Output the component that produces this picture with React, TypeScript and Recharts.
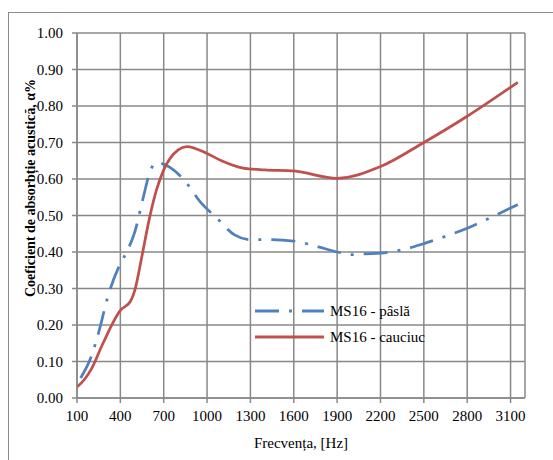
import { LineChart, Line, XAxis, YAxis, CartesianGrid, Legend } from "recharts";

// MS16 - pâslă (felt)
const frecventaPasla = [125, 200, 250, 315, 400, 440, 500, 560, 605, 650, 730, 850, 950, 1070, 1190, 1300, 1430, 1600, 1770, 1900, 2000, 2100, 2200, 2350, 2500, 2650, 2800, 2970, 3150];
const valoriPasla = [0.055, 0.115, 0.18, 0.28, 0.368, 0.397, 0.455, 0.552, 0.62, 0.645, 0.635, 0.593, 0.539, 0.492, 0.447, 0.434, 0.434, 0.43, 0.414, 0.4, 0.393, 0.395, 0.397, 0.406, 0.423, 0.443, 0.465, 0.496, 0.53];

// MS16 - cauciuc (rubber)
const frecventaCauciuc = [100, 150, 200, 280, 400, 470, 500, 550, 600, 650, 700, 800, 860, 1000, 1100, 1250, 1400, 1600, 1900, 2200, 2500, 2800, 3150];
const valoriCauciuc = [0.03, 0.05, 0.08, 0.15, 0.24, 0.265, 0.295, 0.39, 0.49, 0.57, 0.625, 0.68, 0.689, 0.67, 0.65, 0.63, 0.625, 0.622, 0.602, 0.634, 0.7, 0.772, 0.865];

const xTicks = [100, 400, 700, 1000, 1300, 1600, 1900, 2200, 2500, 2800, 3100];
const yTicks = [0, 0.1, 0.2, 0.3, 0.4, 0.5, 0.6, 0.7, 0.8, 0.9, 1.0];

const seriesNames = ["MS16 - pâslă", "MS16 - cauciuc"];
const seriesColors = ["#4F81BD", "#C0504D"];
const seriesDash = ["24 10 3 10", undefined];

const dataPasla = frecventaPasla.map((f, i) => ({ f, v: valoriPasla[i] }));
const dataCauciuc = frecventaCauciuc.map((f, i) => ({ f, v: valoriCauciuc[i] }));

const FONT = "Liberation Serif, DejaVu Serif, Times New Roman, Times, serif";
const GRID = "#888888";

function LegendBox() {
  return (
    <div style={{ fontFamily: FONT, fontSize: 15, color: "#000" }}>
      {seriesNames.map((name, i) => (
        <div key={name} style={{ display: "flex", alignItems: "center", height: 26 }}>
          <svg width={69} height={6}>
            <line x1={0} y1={3} x2={69} y2={3} stroke={seriesColors[i]} strokeWidth={3} strokeDasharray={seriesDash[i]} />
          </svg>
          <span style={{ marginLeft: 6 }}>{name}</span>
        </div>
      ))}
    </div>
  );
}

function YLabel() {
  return (
    <text x={35} y={188} transform="rotate(-90, 35, 188)" textAnchor="middle" style={{ fontFamily: FONT }} fontSize={14} fontWeight="bold" fill="#000">
      Coeficient de absorbție acustică, α%
    </text>
  );
}

export default function App() {
  return (
    <div style={{ position: "absolute", left: 0, top: 0, width: 553, height: 460, overflow: "hidden", background: "#fff", fontFamily: FONT }}>
      <div style={{ position: "absolute", left: 8, top: 12, width: 600, height: 500, border: "1px solid #8a8a8a" }} />
      <div style={{ position: "absolute", left: 0, top: 0 }}>
        <LineChart width={553} height={460} margin={{ top: 33, right: 28, left: 17, bottom: 12 }} style={{ fontFamily: FONT }}>
          <CartesianGrid stroke={GRID} strokeWidth={1.5} />
          <XAxis
            type="number"
            dataKey="f"
            domain={[100, 3200]}
            ticks={xTicks}
            interval={0}
            height={50}
            tickSize={5}
            tickMargin={7}
            stroke={GRID}
            strokeWidth={1.5}
            tick={{ fill: "#000", fontSize: 15, style: { fontFamily: FONT } }}
            label={{ value: "Frecvența, [Hz]", position: "insideBottom", offset: 0, fill: "#000", fontSize: 15, style: { fontFamily: FONT } }}
          />
          <YAxis
            type="number"
            domain={[0, 1]}
            ticks={yTicks}
            interval={0}
            width={60}
            tickSize={5}
            tickMargin={9}
            stroke={GRID}
            strokeWidth={1.5}
            tickFormatter={(v: number) => v.toFixed(2)}
            tick={{ fill: "#000", fontSize: 15, style: { fontFamily: FONT } }}
            label={<YLabel />}
          />
          <Legend layout="horizontal" verticalAlign="middle" align="center" content={<LegendBox />} wrapperStyle={{ left: 255, top: 298, width: "auto" }} />
          <Line
            data={dataPasla}
            dataKey="v"
            name={seriesNames[0]}
            type="monotone"
            stroke={seriesColors[0]}
            strokeWidth={2.75}
            strokeDasharray={seriesDash[0]}
            dot={false}
            isAnimationActive={false}
          />
          <Line
            data={dataCauciuc}
            dataKey="v"
            name={seriesNames[1]}
            type="monotone"
            stroke={seriesColors[1]}
            strokeWidth={2.75}
            dot={false}
            isAnimationActive={false}
          />
        </LineChart>
      </div>
    </div>
  );
}
